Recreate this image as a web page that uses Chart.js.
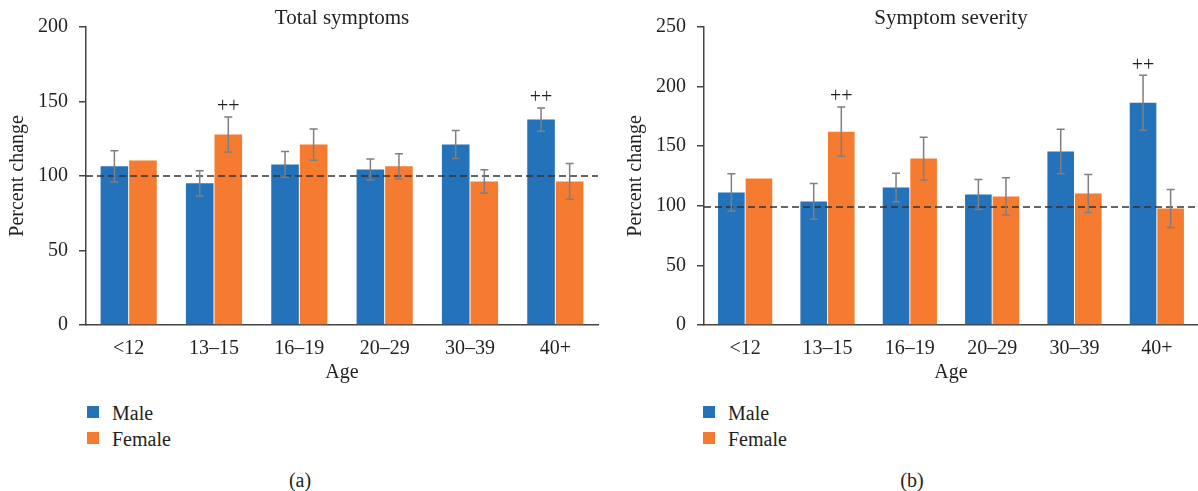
<!DOCTYPE html>
<html>
<head>
<meta charset="utf-8">
<script src="https://cdn.jsdelivr.net/npm/chart.js"></script>
<style>
  body { margin: 0; background: #fff; font-family: 'Liberation Serif', serif; color: #231f20; }
  #wrap { position: relative; width: 1198px; height: 491px; overflow: hidden; }
  canvas { position: absolute; top: 0; }
  .legend { position: absolute; top: 400px; font-size: 20px; }
  .legend div { position: relative; height: 26px; line-height: 26px; padding-left: 25px; }
  .legend span { position: absolute; left: 0; top: 6px; width: 12px; height: 12px; }
  .caption { position: absolute; top: 468px; width: 40px; font-size: 20px; line-height: 24px; text-align: center; }
</style>
</head>
<body>
<div id="wrap">
  <canvas id="chartA" width="600" height="390" style="left:0"></canvas>
  <canvas id="chartB" width="598" height="390" style="left:600px"></canvas>
  <div class="legend" id="legendA" style="left:87px"></div>
  <div class="legend" id="legendB" style="left:703px"></div>
  <div class="caption" style="left:280px">(a)</div>
  <div class="caption" style="left:892px">(b)</div>
</div>
<script>
// categorias e valores
const ageGroups = ['<12', '13–15', '16–19', '20–29', '30–39', '40+'];
const seriesNames = ['Male', 'Female'];
const seriesColors = ['#2472ba', '#f47b30'];

// (a) Total symptoms
const totalMale = [106.4, 95, 107.7, 104.3, 121, 137.8];
const totalFemale = [110.4, 127.8, 121, 106.4, 96.3, 96.3];
const totalMaleErr = [10.5, 8.5, 8.6, 7, 9.4, 7.8];
const totalFemaleErr = [null, 11.7, 10.5, 8.4, 7.8, 12];
const totalMaleSig = ['', '', '', '', '', '++'];
const totalFemaleSig = ['', '++', '', '', '', ''];
const totalTicks = [0, 50, 100, 150, 200];
const totalRef = 100;

// (b) Symptom severity
const sevMale = [111.1, 103.6, 115.3, 109.4, 145.4, 186.3];
const sevFemale = [122.8, 162.1, 139.5, 107.8, 110.3, 97.7];
const sevMaleErr = [15.6, 15, 12, 12.5, 18.7, 23];
const sevFemaleErr = [null, 20.6, 18, 15.6, 15.9, 16];
const sevMaleSig = ['', '', '', '', '', '++'];
const sevFemaleSig = ['', '++', '', '', '', ''];
const sevTicks = [0, 50, 100, 150, 200, 250];
const sevRef = 99;

const FONT = "'Liberation Serif', 'Times New Roman', serif";
const INK = '#231f20';
Chart.defaults.font.family = FONT;
Chart.defaults.color = INK;

// linha tracejada de referência (100%)
const refLinePlugin = {
    id: 'refLine',
    afterDatasetsDraw(chart, args, opts) {
        const { ctx, chartArea } = chart;
        const y = chart.scales.y.getPixelForValue(opts.value);
        ctx.save();
        ctx.strokeStyle = '#333';
        ctx.lineWidth = 1.5;
        ctx.setLineDash([7, 4]);
        ctx.beginPath();
        ctx.moveTo(chartArea.left, y);
        ctx.lineTo(chartArea.right, y);
        ctx.stroke();
        ctx.restore();
    }
};

// barras de erro + marcadores "++"
const errorBarPlugin = {
    id: 'errorBars',
    afterDatasetsDraw(chart) {
        const { ctx } = chart;
        const yScale = chart.scales.y;
        chart.data.datasets.forEach((ds, i) => {
            const meta = chart.getDatasetMeta(i);
            meta.data.forEach((bar, j) => {
                const v = ds.data[j];
                const err = ds.errors[j];
                let top = yScale.getPixelForValue(v);
                ctx.save();
                if (err) {
                    top = yScale.getPixelForValue(v + err);
                    const bottom = yScale.getPixelForValue(v - err);
                    ctx.strokeStyle = '#7f7f7f';
                    ctx.lineWidth = 1.5;
                    ctx.beginPath();
                    ctx.moveTo(bar.x, top);
                    ctx.lineTo(bar.x, bottom);
                    ctx.moveTo(bar.x - 4, top);
                    ctx.lineTo(bar.x + 4, top);
                    ctx.moveTo(bar.x - 4, bottom);
                    ctx.lineTo(bar.x + 4, bottom);
                    ctx.stroke();
                }
                if (ds.sig[j]) {
                    ctx.fillStyle = INK;
                    ctx.font = '20px ' + FONT;
                    ctx.textAlign = 'center';
                    ctx.textBaseline = 'middle';
                    ctx.fillText(ds.sig[j], bar.x, top - 10);
                }
                ctx.restore();
            });
        });
    }
};

function makeChart(canvasId, title, male, female, maleErr, femaleErr, maleSig, femaleSig, ticks, refValue, padLeft, padRight) {
    const ctx = document.getElementById(canvasId).getContext('2d');
    const values = [male, female];
    const errs = [maleErr, femaleErr];
    const sigs = [maleSig, femaleSig];
    return new Chart(ctx, {
        type: 'bar',
        data: {
            labels: ageGroups,
            datasets: seriesNames.map((name, k) => ({
                label: name,
                data: values[k],
                errors: errs[k],
                sig: sigs[k],
                backgroundColor: seriesColors[k],
                borderWidth: 0,
                categoryPercentage: 0.67,
                barPercentage: 0.965
            }))
        },
        options: {
            responsive: false,
            animation: false,
            layout: { padding: { left: padLeft, right: padRight, top: 0, bottom: 5 } },
            plugins: {
                legend: { display: false },
                tooltip: { enabled: false },
                title: {
                    display: true,
                    text: title,
                    fullSize: false,
                    color: INK,
                    font: { size: 21, weight: 'normal', lineHeight: 0.8 },
                    padding: { top: 10, bottom: 0 }
                },
                refLine: { value: refValue }
            },
            scales: {
                x: {
                    grid: { display: false },
                    border: { display: true, color: '#444', width: 1.5 },
                    ticks: { font: { size: 20 }, padding: 4, color: INK },
                    title: { display: true, text: 'Age', font: { size: 20 }, padding: { top: 0, bottom: 0 }, color: INK },
                    afterFit(scale) { scale.height = 60; }
                },
                y: {
                    min: ticks[0],
                    max: ticks[ticks.length - 1],
                    ticks: { stepSize: ticks[1] - ticks[0], font: { size: 20 }, padding: 11, color: INK },
                    grid: { drawOnChartArea: false, drawTicks: true, tickLength: 7, color: '#444', lineWidth: 1.5 },
                    border: { display: true, color: '#444', width: 1.5 },
                    title: { display: true, text: 'Percent change', font: { size: 20 }, padding: { top: 6, bottom: 0 }, color: INK },
                    afterFit(scale) { scale.width = 86; }
                }
            }
        },
        plugins: [refLinePlugin, errorBarPlugin]
    });
}

function makeLegend(id) {
    const el = document.getElementById(id);
    seriesNames.forEach((name, k) => {
        const row = document.createElement('div');
        row.innerHTML = '<span style="background:' + seriesColors[k] + '"></span>' + name;
        el.appendChild(row);
    });
}

makeChart('chartA', 'Total symptoms', totalMale, totalFemale, totalMaleErr, totalFemaleErr,
    totalMaleSig, totalFemaleSig, totalTicks, totalRef, 0, 2);
makeChart('chartB', 'Symptom severity', sevMale, sevFemale, sevMaleErr, sevFemaleErr,
    sevMaleSig, sevFemaleSig, sevTicks, sevRef, 18, 0);
makeLegend('legendA');
makeLegend('legendB');
</script>
</body>
</html>
